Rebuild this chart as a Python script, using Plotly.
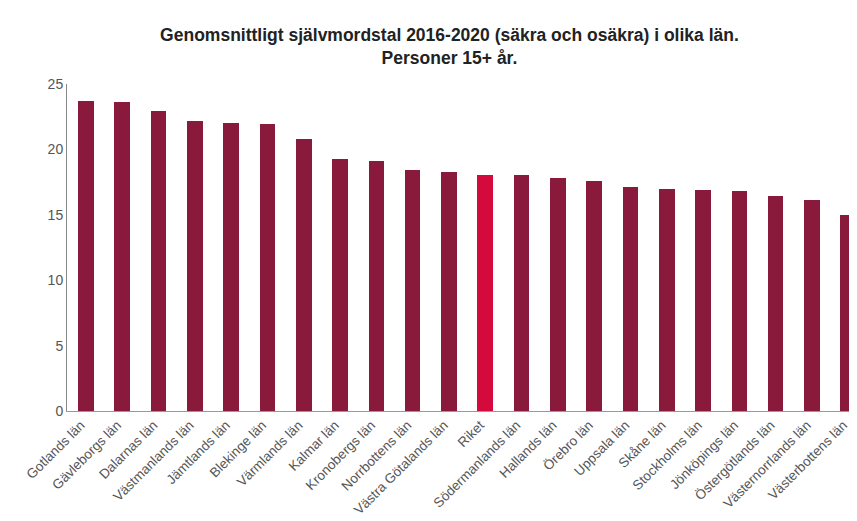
import plotly.graph_objects as go

lan = ["Gotlands län", "Gävleborgs län", "Dalarnas län", "Västmanlands län", "Jämtlands län",
       "Blekinge län", "Värmlands län", "Kalmar län", "Kronobergs län", "Norrbottens län",
       "Västra Götalands län", "Riket", "Södermanlands län", "Hallands län", "Örebro län",
       "Uppsala län", "Skåne län", "Stockholms län", "Jönköpings län", "Östergötlands län",
       "Västernorrlands län", "Västerbottens län"]
varden = [23.7, 23.6, 22.9, 22.2, 22.05, 21.95, 20.8, 19.3, 19.15, 18.4,
          18.3, 18.05, 18.05, 17.8, 17.6, 17.1, 16.95, 16.9, 16.85, 16.4,
          16.1, 15.0]
y_ticks = [0, 5, 10, 15, 20, 25]

farger = ["#D4093C" if n == "Riket" else "#8A1A3C" for n in lan]

fig = go.Figure(go.Bar(x=lan, y=varden, marker=dict(color=farger, line=dict(width=0)), width=0.43))

# page body has an 8px margin, so the figure is drawn 8px smaller and offset
fig.update_layout(
    width=849, height=513,
    paper_bgcolor="white", plot_bgcolor="white",
    margin=dict(l=59, r=0, t=76, b=110),
    title=dict(text="<b>Genomsnittligt självmordstal 2016-2020 (säkra och osäkra) i olika län.<br>Personer 15+ år.</b>",
               x=0.52, xanchor="center", y=0.936, yanchor="top",
               font=dict(family="Liberation Sans, Arial", size=17.5, color="#222")),
    font=dict(family="Liberation Sans, Arial", color="#444"),
    showlegend=False,
    bargap=0,
)
fig.update_xaxes(range=[-0.52, 21.24], showgrid=False, showline=True, linecolor="#999", linewidth=1,
                 tickangle=-45, tickfont=dict(size=13.5, color="#555"), ticks="", automargin=False,
                 ticklabelshift=-5)
fig.update_yaxes(range=[0, 25], tickvals=y_ticks, showgrid=False, showline=True, linecolor="#888", linewidth=1,
                 zeroline=False, tickfont=dict(size=14, color="#555"), ticks="", ticklen=0, automargin=False)

fig.write_html("out.html")
